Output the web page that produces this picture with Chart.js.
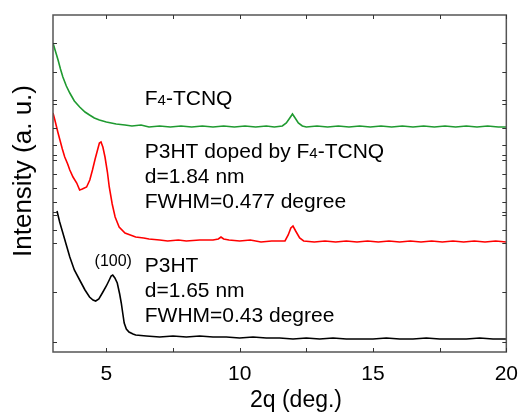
<!DOCTYPE html>
<html>
<head>
<meta charset="utf-8">
<script src="https://cdn.jsdelivr.net/npm/chart.js@4.4.0/dist/chart.umd.min.js"></script>
<style>
  html, body { margin: 0; padding: 0; background: #fff; }
  #wrap { width: 528px; height: 417px; }
</style>
</head>
<body>
<div id="wrap"><canvas id="grafik" width="528" height="417"></canvas></div>
<script>
// F4-TCNQ (green)
const f4X = [3.00,3.10,3.19,3.28,3.37,3.50,3.63,3.80,4.00,4.20,4.37,4.55,4.74,5.00,5.37,5.70,5.96,6.3,6.6,7.0,7.4,7.8,8.2,8.6,9.0,9.4,9.8,10.2,10.6,11.0,11.3,11.6,11.75,11.88,11.98,12.08,12.2,12.35,12.5,12.9,13.3,13.7,14.1,14.5,14.9,15.3,15.7,16.1,16.5,16.9,17.3,17.7,18.1,18.5,18.9,19.3,19.7,20];
const f4Y = [309,300,292,283,275,266,259,251,245,240,237,234,232,230,228,227,226,227,225,226,225,226,225,226,225,226,225,226,225,226,225,226,229,234,238,234,229,226,225,226,225,226,225,226,225,226,225,226,225,226,225,226,225,226,225,226,225,225];

// P3HT doped by F4-TCNQ (red)
const dopedX = [3.00,3.07,3.18,3.26,3.35,3.44,3.55,3.63,3.75,3.89,4.00,4.10,4.26,4.38,4.48,4.58,4.67,4.74,4.80,4.87,4.95,5.04,5.11,5.22,5.33,5.48,5.70,5.90,6.10,6.40,6.60,7.00,7.30,7.70,8.00,8.50,9.00,9.20,9.30,9.40,9.60,10.0,10.4,10.8,11.2,11.5,11.7,11.82,11.92,12.0,12.1,12.25,12.4,12.8,13.2,13.6,14.0,14.4,14.8,15.2,15.6,16.0,16.4,16.8,17.2,17.6,18.0,18.4,18.8,19.2,19.6,20];
const dopedY = [239,232,220,212,203,195,188,182,175,169,162,163,165,172,182,193,202,209,210,205,195,180,165,148,135,125,119,117,115,114,113,112,111,112,111,112,112,113,115,113,112,111,112,110,111,111,111,117,124,126,121,114,111,110,111,110,111,110,111,110,111,110,111,110,111,110,111,110,111,110,111,110];

// P3HT (black)
const p3htX = [3.15,3.25,3.37,3.50,3.63,3.80,4.00,4.20,4.37,4.50,4.60,4.72,4.85,5.00,5.11,5.18,5.24,5.32,5.41,5.50,5.56,5.62,5.67,5.75,5.85,6.00,6.10,6.50,7.00,7.5,8.0,8.5,9.0,9.5,10.0,10.5,11,11.5,12,12.5,13,13.5,14,14.5,15,15.5,16,16.5,17,17.5,18,18.5,19,19.5,20];
const p3htY = [141,130,119,107,95,82,72,62,55,52,51,53,59,66,72,76,77,74,69,58,49,38,29,23,20,18,17,16,15,16,15,16,15,15,14,15,14,14,13,14,13,14,13,13,13,14,13,13,14,13,13,13,14,13,13];

const xTicks = [5, 10, 15, 20];
const xMinorTicks = [7.5, 12.5, 17.5];
const yTicks = [309,280,252,248,224,207,197,192,178,164,150,140,137,122,109,60,10];

const labels = [
  [['F', 21], ['4', 15], ['-TCNQ', 21]],
  [['P3HT doped by F', 21], ['4', 15], ['-TCNQ', 21]],
  [['d=1.84 nm', 21]],
  [['FWHM=0.477 degree', 21]],
  [['(100)', 16]],
  [['P3HT', 21]],
  [['d=1.65 nm', 21]],
  [['FWHM=0.43 degree', 21]]
];
const labelX = [6.44, 6.44, 6.44, 6.44, 4.56, 6.44, 6.44, 6.44];
const labelY = [247, 194, 169, 144, 86, 80, 55, 30];

const FONT = '"Liberation Sans", Arial, sans-serif';
const toPts = (xs, ys) => xs.map((x, i) => ({ x: x, y: ys[i] }));

const extras = {
  id: 'extras',
  afterDraw(chart) {
    const ctx = chart.ctx;
    const a = chart.chartArea;
    const xs = chart.scales.x, ys = chart.scales.y;
    ctx.save();
    // frame
    ctx.strokeStyle = '#555';
    ctx.lineWidth = 1.5;
    ctx.strokeRect(a.left, a.top, a.right - a.left, a.bottom - a.top);
    // ticks, pointing inward
    ctx.strokeStyle = '#333';
    ctx.lineWidth = 1;
    ctx.beginPath();
    xTicks.concat(xMinorTicks).forEach(v => {
      const px = Math.round(xs.getPixelForValue(v)) + 0.5;
      ctx.moveTo(px, a.bottom); ctx.lineTo(px, a.bottom - 4);
      ctx.moveTo(px, a.top); ctx.lineTo(px, a.top + 4);
    });
    yTicks.forEach(v => {
      const py = Math.round(ys.getPixelForValue(v)) + 0.5;
      ctx.moveTo(a.left, py); ctx.lineTo(a.left + 4, py);
      ctx.moveTo(a.right, py); ctx.lineTo(a.right - 4, py);
    });
    ctx.stroke();
    // annotations
    ctx.fillStyle = '#000';
    ctx.textBaseline = 'alphabetic';
    ctx.textAlign = 'left';
    labels.forEach((parts, i) => {
      let x = xs.getPixelForValue(labelX[i]);
      const y = ys.getPixelForValue(labelY[i]);
      parts.forEach(p => {
        ctx.font = p[1] + 'px ' + FONT;
        ctx.fillText(p[0], x, y);
        x += ctx.measureText(p[0]).width;
      });
    });
    // axis titles
    ctx.font = '26px ' + FONT;
    ctx.textAlign = 'center';
    ctx.textBaseline = 'middle';
    ctx.save();
    ctx.translate(24, 171);
    ctx.rotate(-Math.PI / 2);
    ctx.fillText('Intensity (a. u.)', 0, 0);
    ctx.restore();
    ctx.font = '23px ' + FONT;
    ctx.fillText('2q (deg.)', 296, 401);
    ctx.restore();
  }
};

const ds = (data, color) => ({
  data: data,
  borderColor: color,
  borderWidth: 1.6,
  pointRadius: 0,
  fill: false,
  tension: 0
});

new Chart(document.getElementById('grafik').getContext('2d'), {
  type: 'line',
  data: {
    datasets: [
      ds(toPts(f4X, f4Y), '#1f9a30'),
      ds(toPts(dopedX, dopedY), '#ff0000'),
      ds(toPts(p3htX, p3htY), '#000000')
    ]
  },
  options: {
    responsive: false,
    animation: false,
    layout: { padding: { top: 15, right: 16, left: 0, bottom: 0 } },
    plugins: { legend: { display: false }, tooltip: { enabled: false } },
    scales: {
      x: {
        type: 'linear',
        min: 3,
        max: 20,
        afterBuildTicks: s => { s.ticks = xTicks.map(v => ({ value: v })); },
        afterFit: s => { s.height = 65; },
        grid: { display: false, drawTicks: false },
        border: { display: false },
        ticks: { color: '#000', font: { size: 21, family: FONT }, padding: 10, maxRotation: 0 }
      },
      y: {
        type: 'linear',
        min: 0,
        max: 337,
        afterFit: s => { s.width = 53; },
        grid: { display: false, drawTicks: false },
        border: { display: false },
        ticks: { display: false }
      }
    }
  },
  plugins: [extras]
});
</script>
</body>
</html>
